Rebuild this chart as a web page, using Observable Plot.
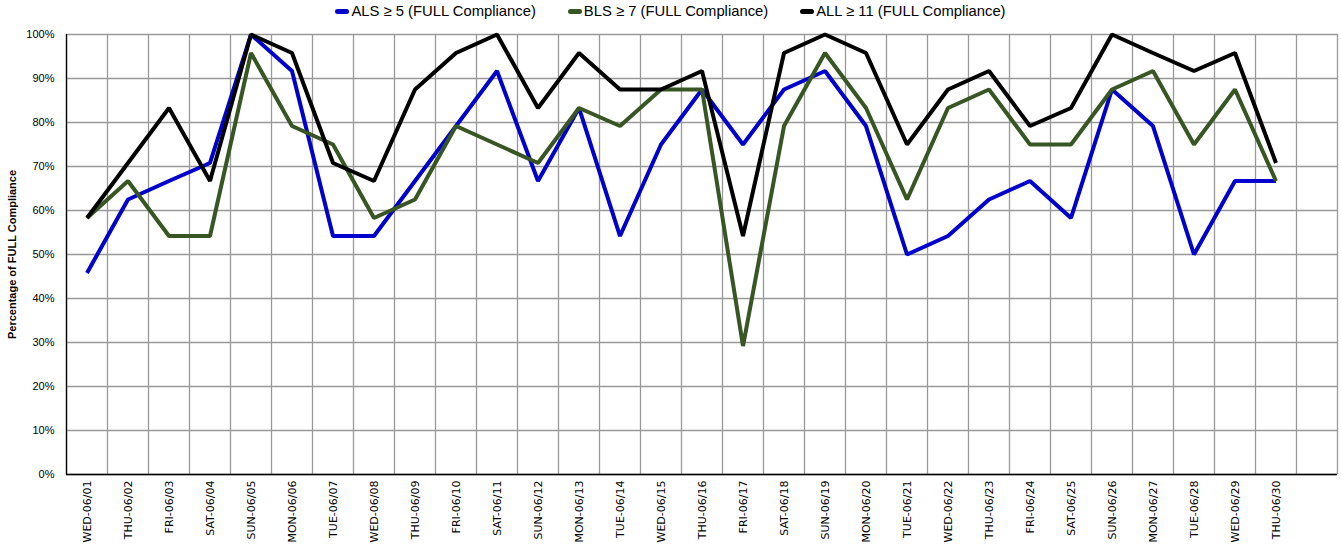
<!DOCTYPE html>
<html>
<head>
<meta charset="utf-8">
<script src="https://cdn.jsdelivr.net/npm/d3@7"></script>
<script src="https://cdn.jsdelivr.net/npm/@observablehq/plot@0.6"></script>
<style>
  html, body { margin: 0; padding: 0; background: #fff; }
  #legend { height: 22px; display: flex; justify-content: center; align-items: center; gap: 32px;
            font-family: "Liberation Sans", Arial, sans-serif; font-size: 14.8px; color: #000; }
  #legend .item { display: flex; align-items: center; }
  #legend .sw { width: 14px; height: 5px; border-radius: 3px; margin-right: 2px; }
  #chart svg { display: block; }
</style>
</head>
<body>
<div id="legend"></div>
<div id="chart"></div>
<script>
const categories = ["WED-06/01","THU-06/02","FRI-06/03","SAT-06/04","SUN-06/05","MON-06/06","TUE-06/07","WED-06/08","THU-06/09","FRI-06/10","SAT-06/11","SUN-06/12","MON-06/13","TUE-06/14","WED-06/15","THU-06/16","FRI-06/17","SAT-06/18","SUN-06/19","MON-06/20","TUE-06/21","WED-06/22","THU-06/23","FRI-06/24","SAT-06/25","SUN-06/26","MON-06/27","TUE-06/28","WED-06/29","THU-06/30"];
const als = [45.8,62.5,66.7,70.8,100,91.7,54.2,54.2,66.7,79.2,91.7,66.7,83.3,54.2,75,87.5,75,87.5,91.7,79.2,50,54.2,62.5,66.7,58.3,87.5,79.2,50,66.7,66.7];
const bls = [58.3,66.7,54.2,54.2,95.8,79.2,75,58.3,62.5,79.2,75,70.8,83.3,79.2,87.5,87.5,29.2,79.2,95.8,83.3,62.5,83.3,87.5,75,75,87.5,91.7,75,87.5,66.7];
const all = [58.3,70.8,83.3,66.7,100,95.8,70.8,66.7,87.5,95.8,100,83.3,95.8,87.5,87.5,91.7,54.2,95.8,100,95.8,75,87.5,91.7,79.2,83.3,100,95.8,91.7,95.8,70.8];
const seriesNames = ["ALS \u2265 5 (FULL Compliance)","BLS \u2265 7 (FULL Compliance)","ALL \u2265 11 (FULL Compliance)"];
const seriesColors = ["#0000CC","#375623","#000000"];
const yTicks = [0,10,20,30,40,50,60,70,80,90,100];

const seriesValues = [als, bls, all];
const rows = [];
seriesValues.forEach((vals, s) => vals.forEach((v, i) => rows.push({i: i + 0.5, v, s: seriesNames[s]})));
const nBands = categories.length + 1;
const gridX = d3.range(0, nBands + 1);

// legend
const legend = document.getElementById("legend");
seriesNames.forEach((n, k) => {
  const it = document.createElement("div"); it.className = "item";
  const sw = document.createElement("span"); sw.className = "sw"; sw.style.background = seriesColors[k];
  const tx = document.createElement("span"); tx.textContent = n;
  it.appendChild(sw); it.appendChild(tx); legend.appendChild(it);
});

const chart = Plot.plot({
  width: 1341,
  height: 528,
  marginLeft: 66,
  marginRight: 4,
  marginTop: 12,
  marginBottom: 76,
  x: {type: "linear", domain: [0, nBands]},
  y: {domain: [0, 100]},
  color: {domain: seriesNames, range: seriesColors},
  marks: [
    Plot.ruleY(yTicks, {stroke: "#999", strokeWidth: 1.3}),
    Plot.ruleX(gridX, {stroke: "#999", strokeWidth: 1.3}),
    Plot.ruleX([0], {stroke: "#000", strokeWidth: 1.3}),
    Plot.ruleY([0], {stroke: "#000", strokeWidth: 1.3}),
    Plot.axisY({ticks: yTicks, tickFormat: d => d + "%", tickSize: 0, tickPadding: 12,
      fontSize: 11, fontFamily: "Liberation Sans, Arial, sans-serif",
      label: "Percentage of FULL Compliance", labelAnchor: "center", labelArrow: "none", labelOffset: 58}),
    Plot.axisX({ticks: categories.map((c, i) => i + 0.5), tickFormat: (d) => categories[Math.round(d - 0.5)],
      tickRotate: -90, tickSize: 0, tickPadding: 6, fontSize: 11,
      fontFamily: "DejaVu Sans, sans-serif", label: null}),
    Plot.line(rows, {x: "i", y: "v", z: "s", stroke: "s", strokeWidth: 4, strokeLinejoin: "miter", strokeLinecap: "butt"})
  ]
});
chart.querySelectorAll("[aria-label='y-axis label'] text, g[aria-label='y-axis label']").forEach(el => {
  el.setAttribute("font-weight", "bold");
  el.setAttribute("font-family", "Liberation Sans, Arial, sans-serif");
  el.setAttribute("font-size", "11");
});
document.getElementById("chart").appendChild(chart);
</script>
</body>
</html>
